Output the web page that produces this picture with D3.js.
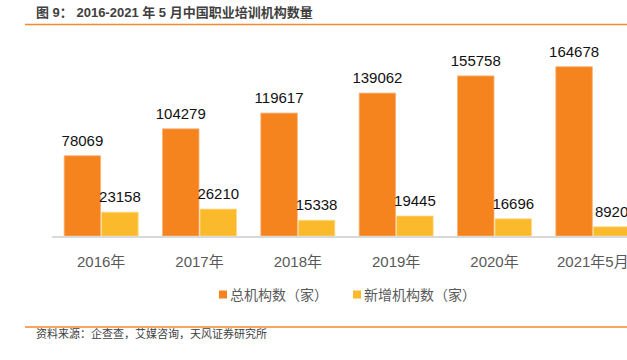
<!DOCTYPE html>
<html><head><meta charset="utf-8">
<script src="https://cdn.jsdelivr.net/npm/d3@7/dist/d3.min.js"></script>
<style>
html,body{margin:0;padding:0;background:#fff;}
svg{display:block;font-family:"Liberation Sans",Arial,"Noto Sans CJK SC",sans-serif;}
</style></head>
<body>
<svg id="chart" width="627" height="360"></svg>
<script>
const categories = ["2016年","2017年","2018年","2019年","2020年","2021年5月"];
const seriesNames = ["总机构数（家）","新增机构数（家）"];
const totalValues = [78069,104279,119617,139062,155758,164678];
const newValues = [23158,26210,15338,19445,16696,8920];
const colors = ["#F5841F","#FABA2B"];
const strokes = ["#F9B57A","#FCD98A"];
const title = "图 9： 2016-2021 年 5 月中国职业培训机构数量";
const source = "资料来源：企查查，艾媒咨询，天风证券研究所";

const svg = d3.select("#chart");
const W = 627;
const baseY = 236;

// title
svg.append("text").attr("x",36).attr("y",17)
  .attr("font-size",13).attr("font-weight","bold").attr("fill","#404040")
  .text(title);
svg.append("line").attr("x1",25).attr("x2",W).attr("y1",24.5).attr("y2",24.5)
  .attr("stroke","#F28A2E").attr("stroke-width",1.5);

const x = d3.scaleBand().domain(categories).range([52,642]).paddingInner(0.237).paddingOuter(0.1185);
const xs = d3.scaleBand().domain([0,1]).range([0,x.bandwidth()]);
const y = d3.scaleLinear().domain([0,180000]).range([baseY,51]);

const data = categories.map((c,i)=>({cat:c, vals:[totalValues[i], newValues[i]]}));

const g = svg.append("g");
const groups = g.selectAll("g.grp").data(data).enter().append("g")
  .attr("transform",d=>`translate(${x(d.cat)},0)`);
groups.selectAll("rect").data(d=>d.vals.map((v,k)=>({v,k}))).enter().append("rect")
  .attr("x",d=>xs(d.k)+0.5).attr("width",xs.bandwidth()-1)
  .attr("y",d=>y(d.v)).attr("height",d=>baseY-y(d.v))
  .attr("fill",d=>colors[d.k]).attr("stroke",d=>strokes[d.k]).attr("stroke-width",0.8);
groups.selectAll("text").data(d=>d.vals.map((v,k)=>({v,k}))).enter().append("text")
  .attr("x",d=>xs(d.k)+xs.bandwidth()/2).attr("y",d=>y(d.v)-10)
  .attr("text-anchor","middle").attr("font-size",15).attr("fill","#111")
  .text(d=>d.v);

// axis
const xAxis = d3.axisBottom(x).tickSize(0).tickPadding(0);
const ax = svg.append("g").attr("transform",`translate(0,${baseY+1})`).call(xAxis);
ax.select(".domain").attr("stroke","#D9D9D9").attr("stroke-width",2).attr("d","M52,0H627");
ax.selectAll(".tick text").attr("font-size",15).attr("fill","#595959")
  .attr("dy",0).attr("y",30)
  .attr("font-family","\"Liberation Sans\",Arial,\"Noto Sans CJK SC\",sans-serif");

// legend
const legX = [219, 353];
seriesNames.forEach((n,k)=>{
  svg.append("rect").attr("x",legX[k]).attr("y",290.5).attr("width",8).attr("height",8).attr("fill",colors[k]);
  svg.append("text").attr("x",legX[k]+11).attr("y",300).attr("font-size",14).attr("fill","#595959")
    .attr("font-family","\"Noto Sans CJK SC\",sans-serif").text(n);
});

// bottom line & source
svg.append("line").attr("x1",25).attr("x2",W).attr("y1",327).attr("y2",327)
  .attr("stroke","#F28A2E").attr("stroke-width",1.5);
svg.append("text").attr("x",36).attr("y",338).attr("font-size",11).attr("fill","#404040")
  .attr("font-family","\"Noto Sans CJK SC\",sans-serif").text(source);
</script>
</body></html>
